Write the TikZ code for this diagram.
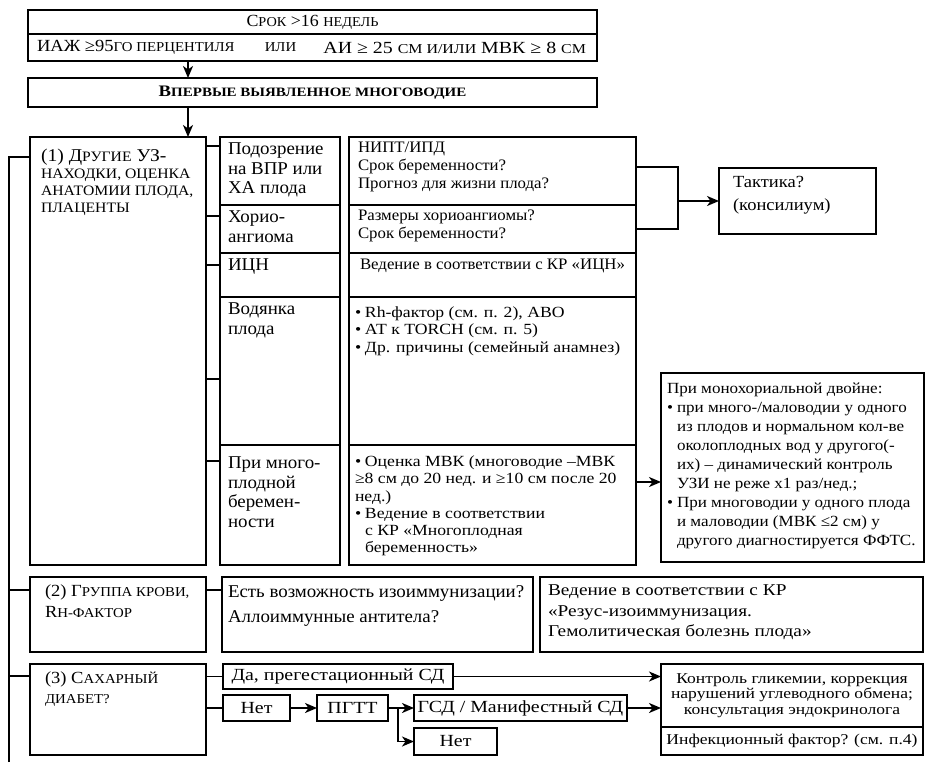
\documentclass[tikz,border=0pt]{standalone}
\usepackage{fontspec}
\usepackage{graphicx}
\setmainfont{Liberation Serif}
\newfontfamily\sA{Liberation Serif}[FakeStretch=1.17]
\newfontfamily\sB{Liberation Serif}[FakeStretch=1.14]
\newfontfamily\sM{Liberation Serif}[FakeStretch=1.10]
\newfontfamily\sC{Liberation Serif}[FakeStretch=1.09]
\newfontfamily\sD{Liberation Serif}[FakeStretch=1.05]
\usetikzlibrary{arrows.meta,calc}
\newcommand\fs[2]{\fontsize{#1}{#2}\selectfont}
\newcommand\sct[1]{\scalebox{0.8}{#1}}
\newcommand\bul{\makebox[10pt][l]{•}}
\newcommand\ind{\hspace*{10pt}}
\tikzset{
  boxst/.style={draw, line width=1.8pt, inner sep=0pt, outer sep=0pt},
  txt/.style={inner sep=0pt, outer sep=0pt, align=left, anchor=north west},
  ln/.style={line width=1.8pt},
  arr/.style={line width=1.8pt, -{Stealth[length=12pt,width=10pt,inset=3.5pt]}},
}
\newcommand\bx[7][]{\node[boxst,anchor=north west,minimum width={#5-#3},minimum height={#6-#4},#1] (#2) at (#3,#4) {#7};}
\begin{document}
\begin{tikzpicture}[x=1pt,y=-1pt]
\useasboundingbox (0,0) rectangle (933,768);
% top
\bx[font=\sD\fs{17}{20}]{tb1}{28}{10}{597}{34}{С\sct{РОК} >16 \sct{НЕДЕЛЬ}}
\bx{tb2}{28}{34}{597}{61}{}
\node[txt,anchor=west,font=\sC\fs{17}{20}] (tb2a) at ([xshift=9pt]tb2.west) {ИАЖ ≥95\sct{ГО ПЕРЦЕНТИЛЯ}};
\node[txt,anchor=center,font=\sC\fs{17}{20}] (tb2b) at ([xshift=-32pt]tb2.center) {\sct{ИЛИ}};
\node[txt,anchor=east,font=\sA\fs{17}{20}] (tb2c) at ([xshift=-11pt]tb2.east) {АИ ≥ 25 \sct{СМ И/ИЛИ} МВК ≥ 8 \sct{СМ}};
\bx[font=\sA\fs{16}{20}\bfseries]{vb}{28}{78}{597}{107}{В\sct{ПЕРВЫЕ ВЫЯВЛЕННОЕ МНОГОВОДИЕ}}
\draw[arr] ([xshift=160pt]tb2.south west) -- ([xshift=160pt]vb.north west);
% block 1
\bx{b1}{30}{137}{206}{565}{}
\draw[arr] ([xshift=160pt]vb.south west) -- ([xshift=158pt]b1.north west);
\node[txt,font=\sC\fs{18}{17}] (t1) at ([xshift=11pt,yshift=-12pt]b1.north west)
 {(1) Д\sct{РУГИЕ} УЗ-\\\sct{НАХОДКИ, ОЦЕНКА}\\\sct{АНАТОМИИ ПЛОДА,}\\\sct{ПЛАЦЕНТЫ}};
\bx{m1}{220}{137}{340}{205}{}
\bx{m2}{220}{205}{340}{253}{}
\bx{m3}{220}{253}{340}{297}{}
\bx{m4}{220}{297}{340}{445}{}
\bx{m5}{220}{445}{340}{565}{}
\bx{r1}{349}{137}{636}{205}{}
\bx{r2}{349}{205}{636}{253}{}
\bx{r3}{349}{253}{636}{297}{}
\bx{r4}{349}{297}{636}{445}{}
\bx{r5}{349}{445}{636}{565}{}
\tikzset{mid/.style={txt,font=\sD\fs{18}{19.5}}, rt/.style={txt,font=\sD\fs{16}{18}}, rb/.style={txt,font=\sB\fs{15.5}{17.2}}}
\node[mid] (tm1) at ([xshift=8pt,yshift=-6pt]m1.north west) {Подозрение\\на ВПР или\\ХА плода};
\node[mid] (tm2) at ([xshift=8pt,yshift=-6pt]m2.north west) {Хорио-\\ангиома};
\node[mid] (tm3) at ([xshift=8pt,yshift=-6pt]m3.north west) {ИЦН};
\node[mid] (tm4) at ([xshift=8pt,yshift=-6pt]m4.north west) {Водянка\\плода};
\node[mid] (tm5) at ([xshift=8pt,yshift=-12pt]m5.north west) {При много-\\плодной\\беремен-\\ности};
\node[rt] (tr1) at ([xshift=9pt,yshift=-5pt]r1.north west) {НИПТ/ИПД\\Срок беременности?\\Прогноз для жизни плода?};
\node[rt] (tr2) at ([xshift=9pt,yshift=-5pt]r2.north west) {Размеры хориоангиомы?\\Срок беременности?};
\node[rt] (tr3) at ([xshift=11pt,yshift=-6pt]r3.north west) {Ведение в соответствии с КР «ИЦН»};
\node[rb] (tr4) at ([xshift=6pt,yshift=-10pt]r4.north west) {\bul Rh-фактор (см. п. 2), АВО\\\bul АТ к TORCH (см. п. 5)\\\bul Др. причины (семейный анамнез)};
\node[rb] (tr5) at ([xshift=6pt,yshift=-11pt]r5.north west) {\bul Оценка МВК (многоводие –МВК\\≥8 см до 20 нед. и ≥10 см после 20\\нед.)\\\bul Ведение в соответствии\\\ind с КР «Многоплодная\\\ind беременность»};
% stubs b1 -> middle
\coordinate (s1) at ([yshift=-9pt]m1.north west);
\coordinate (s2) at ([yshift=-11pt]m2.north west);
\coordinate (s3) at ([yshift=-12pt]m3.north west);
\coordinate (s4) at ([yshift=-82pt]m4.north west);
\coordinate (s5) at ([yshift=-16pt]m5.north west);
\foreach \s in {s1,s2,s3,s4,s5} \draw[ln] (\s) -- (\s -| b1.east);
% spine
\coordinate (sp0) at (9,157);
\coordinate (sp1) at (9,762);
\draw[ln] (sp1) -- (sp0) -- (sp0 -| b1.west);
% tactic
\bx{tk}{719}{168}{876}{234}{}
\node[txt,font=\sC\fs{17}{23}] (ttk) at ([xshift=14pt,yshift=-8pt]tk.north west) {Тактика?\\(консилиум)};
\coordinate (k1) at ([yshift=-30pt]r1.north east);
\coordinate (k2) at ([yshift=-24pt]r2.north east);
\coordinate (kx) at ([xshift=42pt]k1);
\draw[ln] (k1) -- (kx) |- (k2);
\draw[arr] (kx |- tk.west) -- (tk.west);
% monochorial
\bx{mono}{661}{373}{924}{562}{}
\node[txt,font=\sM\fs{15.5}{19}] (tmono) at ([xshift=6pt,yshift=-10pt]mono.north west)
 {При монохориальной двойне:\\\bul при много-/маловодии у одного\\\ind из плодов и нормальном кол-ве\\\ind околоплодных вод у другого(-\\\ind их) – динамический контроль\\\ind УЗИ не реже х1 раз/нед.;\\\bul При многоводии у одного плода\\\ind и маловодии (МВК ≤2 см) у\\\ind другого диагностируется ФФТС.};
\coordinate (ma) at ([yshift=-37pt]r5.north east);
\draw[arr] (ma) -- (ma -| mono.west);
% block 2
\bx{b2}{30}{577}{206}{652}{}
\bx{q1}{222}{577}{533}{652}{}
\bx{q2}{540}{577}{923}{652}{}
\node[txt,font=\sC\fs{17}{21}] (tb2t) at ([xshift=15pt,yshift=-8pt]b2.north west) {(2) Г\sct{РУППА КРОВИ,}\\R\sct{H-ФАКТОР}};
\node[txt,font=\sD\fs{18}{25}] (tq1) at ([xshift=6pt,yshift=-9pt]q1.north west) {Есть возможность изоиммунизации?\\Аллоиммунные антитела?};
\node[txt,font=\sA\fs{16.5}{20.5}] (tq2) at ([xshift=8pt,yshift=-8pt]q2.north west) {Ведение в соответствии с КР\\«Резус-изоиммунизация.\\Гемолитическая болезнь плода»};
\coordinate (s6) at ([yshift=-13pt]b2.north west);
\draw[ln] (s6 -| sp0) -- (s6);
\draw[ln] (s6 -| b2.east) -- (s6 -| q1.west);
% block 3
\bx{b3}{30}{664}{206}{755}{}
\node[txt,font=\sC\fs{17}{20}] (tb3t) at ([xshift=15pt,yshift=-8pt]b3.north west) {(3) С\sct{АХАРНЫЙ}\\\sct{ДИАБЕТ?}};
\coordinate (s7) at ([yshift=-12pt]b3.north west);
\draw[ln] (s7 -| sp0) -- (s7);
\tikzset{sm/.style={font=\sA\fs{17}{20}}}
\bx[sm]{da}{223}{664}{453}{689}{Да, прегестационный СД}
\bx[sm]{net1}{223}{695}{290}{721}{Нет}
\bx[sm]{pgtt}{317}{695}{388}{721}{ПГТТ}
\bx[sm]{gsd}{414}{695}{627}{721}{ГСД / Манифестный СД}
\bx[sm]{net2}{414}{728}{497}{755}{Нет}
\bx[font=\sA\fs{15}{15.5},align=center]{kon}{661}{664}{923}{727}{Контроль гликемии, коррекция\\нарушений углеводного обмена;\\консультация эндокринолога}
\bx[font=\sA\fs{15}{18}]{inf}{661}{727}{923}{755}{Инфекционный фактор? (см. п.4)}
\draw[ln] (da.west) -- (da.west -| b3.east);
\draw[ln] (net1.west) -- (net1.west -| b3.east);
\draw[arr] (net1.east) -- (pgtt.west);
\draw[arr] (pgtt.east) -- (gsd.west);
\coordinate (br) at ([xshift=10pt]pgtt.east);
\draw[arr] (br) |- (net2.west);
\draw[arr] (da.east) -- (da.east -| kon.west);
\draw[arr] (gsd.east) -- (gsd.east -| kon.west);
\end{tikzpicture}
\end{document}
